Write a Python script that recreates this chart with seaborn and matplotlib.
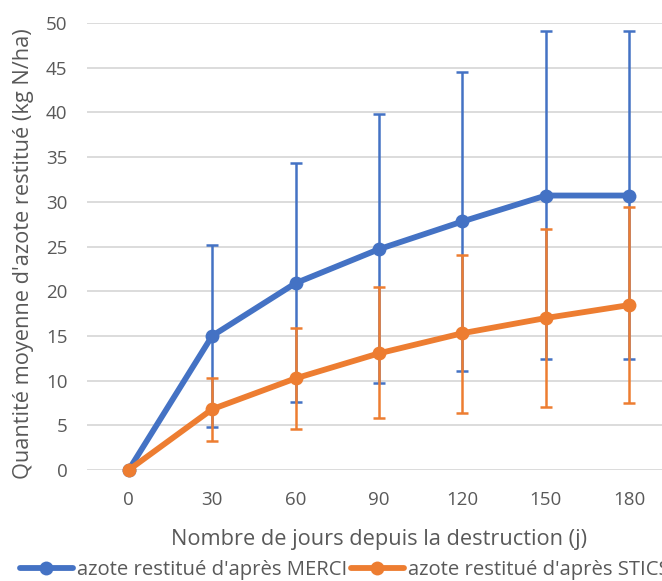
import matplotlib
matplotlib.use("Agg")
import matplotlib.pyplot as plt
import seaborn as sns
import pandas as pd
import numpy as np
from matplotlib.lines import Line2D

days = ["0", "30", "60", "90", "120", "150", "180"]
merci_mean = [0, 15.0, 20.9, 24.7, 27.8, 30.7, 30.7]
merci_upper = [0, 25.2, 34.3, 39.8, 44.5, 49.1, 49.1]
merci_lower = [0, 4.8, 7.6, 9.7, 11.1, 12.4, 12.4]
stics_mean = [0, 6.8, 10.25, 13.05, 15.3, 17.0, 18.45]
stics_upper = [0, 10.25, 15.9, 20.5, 24.1, 27.0, 29.4]
stics_lower = [0, 3.25, 4.6, 5.8, 6.4, 7.1, 7.5]
series_names = ["azote restitué d'après MERCI", "azote restitué d'après STICS"]
colors = ["#4472C4", "#ED7D31"]
yticks = [0, 5, 10, 15, 20, 25, 30, 35, 40, 45, 50]

sns.set_theme(style="white")
plt.rcParams["font.family"] = ["Open Sans", "DejaVu Sans"]
text_color = "#595959"

pos = list(range(len(days)))
df = pd.DataFrame({
    "pos": pos * 2,
    "val": merci_mean + stics_mean,
    "serie": [series_names[0]] * len(days) + [series_names[1]] * len(days),
})

fig = plt.figure(figsize=(6.62, 5.81), dpi=100)
ax = fig.add_axes([87 / 662, 111 / 581, 584 / 662, 447 / 581])

for i, (m, lo, up) in enumerate([(merci_mean, merci_lower, merci_upper),
                                  (stics_mean, stics_lower, stics_upper)]):
    m = np.array(m); lo = np.array(lo); up = np.array(up)
    idx = np.array(pos[1:])
    ax.errorbar(idx, m[1:], yerr=[m[1:] - lo[1:], up[1:] - m[1:]], fmt="none",
                ecolor=colors[i], elinewidth=1.8, capsize=4, capthick=1.8,
                zorder=2 + 2 * i)

sns.lineplot(data=df, x="pos", y="val", hue="serie", palette=colors, marker="o",
             markersize=10, linewidth=4.2, markeredgewidth=0, ax=ax, legend=False,
             zorder=5)
for ln in ax.lines:
    ln.set_clip_on(False)

ax.set_xlim(-0.5, 6.5)
ax.set_ylim(0, 50)
ax.set_yticks(yticks)
ax.set_xticks(pos)
ax.set_xticklabels(days)
ax.yaxis.grid(True, color="#D9D9D9", linewidth=1.3)
ax.xaxis.grid(False)
ax.set_axisbelow(True)
for s in ax.spines.values():
    s.set_visible(False)
ax.tick_params(axis="both", length=0, labelsize=13.5, labelcolor=text_color)
ax.tick_params(axis="x", pad=15)
ax.tick_params(axis="y", pad=14)
ax.set_xlabel("Nombre de jours depuis la destruction (j)", fontsize=15.7,
              color=text_color)
ax.xaxis.set_label_coords(0.5, -(540 - 470) / 447)
ax.set_ylabel("Quantité moyenne d'azote restitué (kg N/ha)", fontsize=15.7,
              color=text_color)
ax.yaxis.set_label_coords((24 - 87) / 584, 0.485)
ax.yaxis.label.set_va("center")
ax.xaxis.label.set_va("center")

handles = [Line2D([0], [0], color=c, linewidth=4.2, marker="o", markersize=10,
                  markeredgewidth=0) for c in colors]
fig.legend(handles, series_names, loc="center left",
           bbox_to_anchor=(20 / 662, 1 - 570 / 581), ncol=2, frameon=False,
           fontsize=14.6, labelcolor=text_color, handlelength=2.6,
           handletextpad=0.2, columnspacing=0.2, borderpad=0, borderaxespad=0)

fig.savefig("out.png", dpi=100)
